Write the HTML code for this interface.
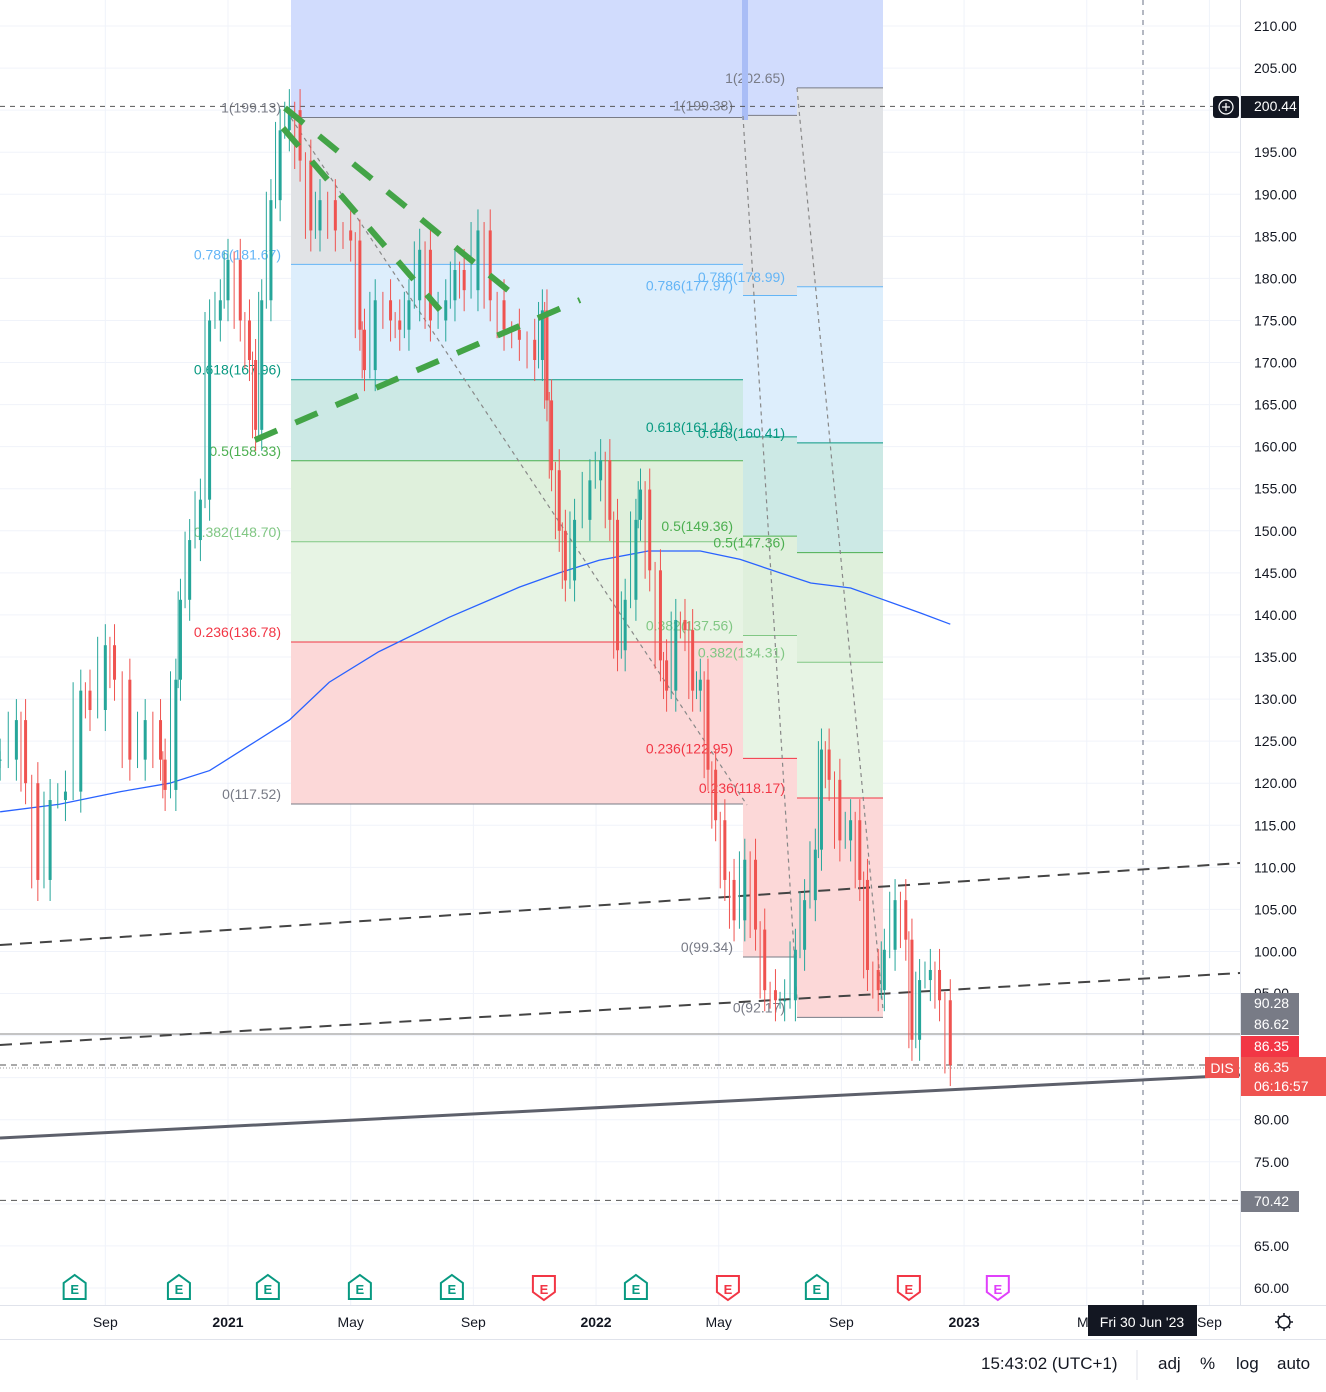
<!DOCTYPE html>
<html><head><meta charset="utf-8">
<style>
html,body{margin:0;padding:0;background:#fff;}
body{width:1326px;height:1387px;overflow:hidden;font-family:"Liberation Sans",sans-serif;}
svg text{font-family:"Liberation Sans",sans-serif;}
</style></head>
<body>
<svg id="c" width="1326" height="1387" xmlns="http://www.w3.org/2000/svg"></svg>
<script>
// ---- data ----
const candleMonths=[-7.43,-6.9,-6.6,-6.2,-5.8,-5.3,-4.8,-4.5,-4.0,-3.7,-3.2,-2.7,-2.2,-2.05,-1.7,-1.55,-1.25,-0.9,-0.6,-0.25,0,0.4,0.7,0.9,1.1,1.4,1.7,2.0,2.35,2.7,3.0,3.5,4.0,4.3,4.45,4.8,5.3,5.6,5.9,6.25,6.6,7.1,7.4,7.7,8.15,8.55,9.0,9.5,10.0,10.25,10.4,10.55,10.8,11.0,11.3,11.8,12.15,12.45,12.7,12.95,13.3,13.45,13.75,14.1,14.3,14.6,14.9,15.15,15.4,15.65,15.9,16.2,16.5,16.85,17.2,17.5,17.85,18.15,18.5,18.8,19.15,19.35,19.6,19.95,20.3,20.6,20.85,21.2,21.4,21.75,22.1,22.3,22.55,22.9,23.2,23.55];
const closes=[122.8,127.5,120,108.5,118,119,131,128.7,136.4,132.3,122.8,127.5,122.8,119.2,132.3,141.8,148.9,153.7,175,177.4,182.2,175,170.3,162,177.4,189.3,197.6,200,194,185.7,189.3,185.7,184.5,173.9,169.1,177.4,175,173.9,177.4,183.4,175,177.4,181,178.6,185.7,177.4,173.9,172.7,170.3,176.2,165.5,157.2,150,144.1,151.3,156,158.4,151.3,135.8,141.8,151.3,154.9,145.3,134.6,131,139.4,138.2,131,132.3,121.6,115.6,108.5,103.7,110.9,102.6,95.4,94.2,94.2,100.2,106.1,112.1,124,120.4,113.2,115.6,108.5,97.8,95.4,100.2,106.1,101.4,89.5,96.6,97.8,94.2,86.5];
const maMonths=[-7.43,-5.5,-3.5,-1.9,-0.6,0.7,2.0,3.3,4.9,7.2,9.5,10.8,12.1,13.7,15.4,16.7,18.0,19.0,20.3,21.3,22.6,23.55];
const maValues=[116.6,117.5,119,120,121.5,124.5,127.5,132,135.6,139.7,143.3,145,146.5,147.6,147.6,146.6,145,143.8,143.2,141.9,140.2,138.9];
const priceTicks=[210,205,200,195,190,185,180,175,170,165,160,155,150,145,140,135,130,125,120,115,110,105,100,80,75,65,60];
const timeLabels=["Sep","2021","May","Sep","2022","May","Sep","2023","Ma","Sep"];
const timeMonths=[-4,0,4,8,12,16,20,24,28,32];
const fibRatios=[1,0.786,0.618,0.5,0.382,0.236,0];
const fib1Labels=["1(199.13)","0.786(181.67)","0.618(167.96)","0.5(158.33)","0.382(148.70)","0.236(136.78)","0(117.52)"];
const fib2Labels=["1(199.38)","0.786(177.97)","0.618(161.16)","0.5(149.36)","0.382(137.56)","0.236(122.95)","0(99.34)"];
const fib3Labels=["1(202.65)","0.786(178.99)","0.618(160.41)","0.5(147.36)","0.382(134.31)","0.236(118.17)","0(92.17)"];
const earnMonths=[-5.0,-1.6,1.3,4.3,7.3,10.3,13.3,16.3,19.2,22.2,25.1];
const earnKinds=["g","g","g","g","g","r","g","r","g","r","m"];

// ---- scales ----
const y=p=>26+(210-p)*8.4133;
const x=m=>228+m*30.67;
const S=document.getElementById('c');
const NS="http://www.w3.org/2000/svg";
function mk(t,a,parent){const e=document.createElementNS(NS,t);for(const k in a)e.setAttribute(k,a[k]);(parent||S).appendChild(e);return e;}
function txt(s,a,parent){const e=mk('text',a,parent);e.textContent=s;return e;}

// grid
const grid=mk('g',{});


for(let p=60;p<=210;p+=5){mk('line',{x1:0,x2:1240,y1:y(p),y2:y(p),stroke:'#f0f3fa','stroke-width':1},grid);}
timeMonths.forEach(m=>mk('line',{x1:x(m),x2:x(m),y1:0,y2:1305,stroke:'#f0f3fa','stroke-width':1},grid));

// fib boxes
const fibCols=['#e1e3e6','#ddeefc','#cce9e5','#dff0dc','#e7f4e4','#fcd8d8'];
const lineCols=['#787b86','#64b5f6','#089981','#4caf50','#81c784','#f23645','#787b86'];
const txtCols=['#787b86','#64b5f6','#089981','#4caf50','#81c784','#f23645','#787b86'];
function fibBox(name,x1,x2,top,bot,labels,labX,anchor){
  const g=mk('g',{});
  
  
  const lv=fibRatios.map(r=>bot+(top-bot)*r);
  mk('rect',{x:x1,y:0,width:x2-x1,height:y(top),fill:'#d1dcfd'},g);
  for(let i=0;i<6;i++){mk('rect',{x:x1,y:y(lv[i]),width:x2-x1,height:y(lv[i+1])-y(lv[i]),fill:fibCols[i]},g);}
  lv.forEach((v,i)=>{mk('line',{x1:x1,x2:x2,y1:y(v),y2:y(v),stroke:lineCols[i],'stroke-width':1},g);
    const t=txt(labels[i],{x:labX,y:y(v)-5,fill:txtCols[i],'font-size':14,'text-anchor':anchor},g);
    
    });
  return g;
}
fibBox('fib-retracement-2021',291,747,199.13,117.52,fib1Labels,281,'end');
fibBox('fib-retracement-mid',743,797,199.38,99.34,fib2Labels,733,'end');
fibBox('fib-retracement-right',797,883,202.65,92.17,fib3Labels,785,'end');
mk('rect',{x:742,y:0,width:6,height:120,fill:'#a9bdf6'});

// diagonal dotted
[[291,118,747,805],[743,116,797,1000],[797,88,883,1010]].forEach(l=>mk('line',{x1:l[0],y1:l[1],x2:l[2],y2:l[3],stroke:'#888','stroke-width':1.2,'stroke-dasharray':'4 4'}));

// horizontal lines
mk('line',{x1:0,x2:1240,y1:y(200.44),y2:y(200.44),stroke:'#555','stroke-dasharray':'5 5','stroke-width':1});
mk('line',{x1:0,x2:1240,y1:y(70.42),y2:y(70.42),stroke:'#555','stroke-dasharray':'6 5','stroke-width':1});
mk('line',{x1:0,x2:1240,y1:1034,y2:1034,stroke:'#888','stroke-width':1});
mk('line',{x1:0,x2:1205,y1:1065,y2:1065,stroke:'#555','stroke-dasharray':'6 5','stroke-width':1});
mk('line',{x1:0,x2:1240,y1:1068,y2:1068,stroke:'#999','stroke-dasharray':'1 2','stroke-width':1});
mk('line',{x1:1143,x2:1143,y1:0,y2:1305,stroke:'#6a7186','stroke-dasharray':'5 5','stroke-width':1});

// trend lines
mk('line',{x1:0,y1:945,x2:1240,y2:863,stroke:'#444','stroke-width':2,'stroke-dasharray':'12 8'});
mk('line',{x1:0,y1:1045,x2:1240,y2:973,stroke:'#444','stroke-width':2,'stroke-dasharray':'12 8'});
mk('line',{x1:0,y1:1138,x2:1240,y2:1075,stroke:'#5d606b','stroke-width':3});

// MA
const ma=mk('polyline',{points:maMonths.map((m,i)=>x(m)+','+y(maValues[i])).join(' '),fill:'none',stroke:'#2962ff','stroke-width':1.3});



// candles
const cg=mk('g',{});


closes.forEach((c,i)=>{
  const o=i?closes[i-1]:c;const up=c>=o;const col=up?'#26a69a':'#ef5350';
  const cx=x(candleMonths[i]);
  const hi=Math.max(o,c)+2.5,lo=Math.min(o,c)-2.5;
  mk('line',{x1:cx,x2:cx,y1:y(hi),y2:y(lo),stroke:col,'stroke-width':1},cg);
  const t=y(Math.max(o,c)),b=y(Math.min(o,c));
  mk('rect',{x:cx-1.5,y:t,width:3,height:Math.max(1,b-t),fill:col},cg);
  const pcx=i?x(candleMonths[i-1]):cx;
  mk('line',{x1:(cx+pcx)/2,x2:(cx+pcx)/2,y1:y(Math.max(o,c)+1),y2:y(Math.min(o,c)-1),stroke:col,'stroke-width':1},cg);
});

// green dashed channel
const gd={stroke:'#43a447','stroke-width':6,'stroke-dasharray':'24 20',fill:'none'};
mk('line',Object.assign({x1:285,y1:108,x2:520,y2:300},gd));
mk('line',Object.assign({x1:283,y1:128,x2:440,y2:310},gd));
mk('line',Object.assign({x1:255,y1:440,x2:580,y2:300},gd));

// price axis
const ax=mk('g',{});


mk('rect',{x:1240,y:0,width:86,height:1305,fill:'#fff'},ax);
mk('line',{x1:1240.5,x2:1240.5,y1:0,y2:1340,stroke:'#e0e3eb'},ax);
priceTicks.forEach(p=>txt(p.toFixed(2),{x:1254,y:y(p)+5,'font-size':14,fill:'#131722'},ax));
function tag(yc,h,fill,lines,w){mk('rect',{x:1241,y:yc,width:w||58,height:h,fill:fill},ax);lines.forEach((l,i)=>txt(l,{x:1254,y:yc+15+i*19,'font-size':14,fill:'#fff'},ax));}
txt('95.00',{x:1254,y:998,'font-size':14,fill:'#131722'},ax);
tag(96,22,'#131722',['200.44']);
tag(993,21,'#787b86',['90.28']);
tag(1014,21,'#787b86',['86.62']);
tag(1036,21,'#f23645',['86.35']);
tag(1057,39,'#ef5350',['86.35','06:16:57'],85);
tag(1191,21,'#787b86',['70.42']);
const ic=mk('g',{});


mk('rect',{x:1213,y:96,width:26,height:22,rx:3,fill:'#131722'},ic);
mk('circle',{cx:1226,cy:107,r:7,fill:'none',stroke:'#fff','stroke-width':1.2},ic);
mk('path',{d:'M1222 107h8M1226 103v8',stroke:'#fff','stroke-width':1.2},ic);
const dis=mk('g',{});


mk('rect',{x:1205,y:1057,width:34,height:21,fill:'#ef5350'},dis);
txt('DIS',{x:1222,y:1073,'font-size':14,fill:'#fff','text-anchor':'middle'},dis);

// earnings
earnMonths.forEach((m,i)=>{
  const g=mk('g',{});
  
  
  const cx=x(m),col=earnKinds[i]=='g'?'#089981':earnKinds[i]=='r'?'#f23645':'#e040fb';
  const d=earnKinds[i]=='g'?`M${cx-11} ${1299}v-16l11 -8l11 8v16z`:`M${cx-11} ${1276}h22v16l-11 8l-11 -8z`;
  mk('path',{d:d,fill:'#fff',stroke:col,'stroke-width':2},g);
  txt('E',{x:cx,y:1294,'font-size':13,'font-weight':'bold',fill:col,'text-anchor':'middle'},g);
});

// time axis
const ta=mk('g',{});


mk('rect',{x:0,y:1305,width:1326,height:35,fill:'#fff'},ta);
mk('line',{x1:0,x2:1326,y1:1305.5,y2:1305.5,stroke:'#e0e3eb'},ta);
mk('line',{x1:0,x2:1326,y1:1339.5,y2:1339.5,stroke:'#e0e3eb'},ta);
timeLabels.forEach((l,i)=>txt(l,{x:x(timeMonths[i]),y:1327,'font-size':14,fill:'#131722','text-anchor':'middle','font-weight':/^\d/.test(l)?'bold':'normal'},ta));
mk('rect',{x:1088,y:1305,width:109,height:31,fill:'#131722'},ta);
txt("Fri 30 Jun '23",{x:1142,y:1327,'font-size':14,fill:'#fff','text-anchor':'middle'},ta);
const gear=mk('g',{});


mk('circle',{cx:1284,cy:1322,r:6,fill:'none',stroke:'#131722','stroke-width':1.5},gear);
mk('path',{d:'M1284 1313v3M1284 1328v3M1275 1322h3M1290 1322h3M1278 1316l2 2M1288 1326l2 2M1278 1328l2 -2M1288 1318l2 -2',stroke:'#131722','stroke-width':1.5},gear);

// status bar
const sb=mk('g',{});


txt('15:43:02 (UTC+1)',{x:981,y:1369,'font-size':17,fill:'#131722'},sb);
mk('line',{x1:1137,x2:1137,y1:1350,y2:1380,stroke:'#e0e3eb'},sb);
[['adj',1158],['%',1200],['log',1236],['auto',1277]].forEach(a=>{const t=txt(a[0],{x:a[1],y:1369,'font-size':17,fill:'#131722'},sb);
  
  });
</script>
</body></html>
